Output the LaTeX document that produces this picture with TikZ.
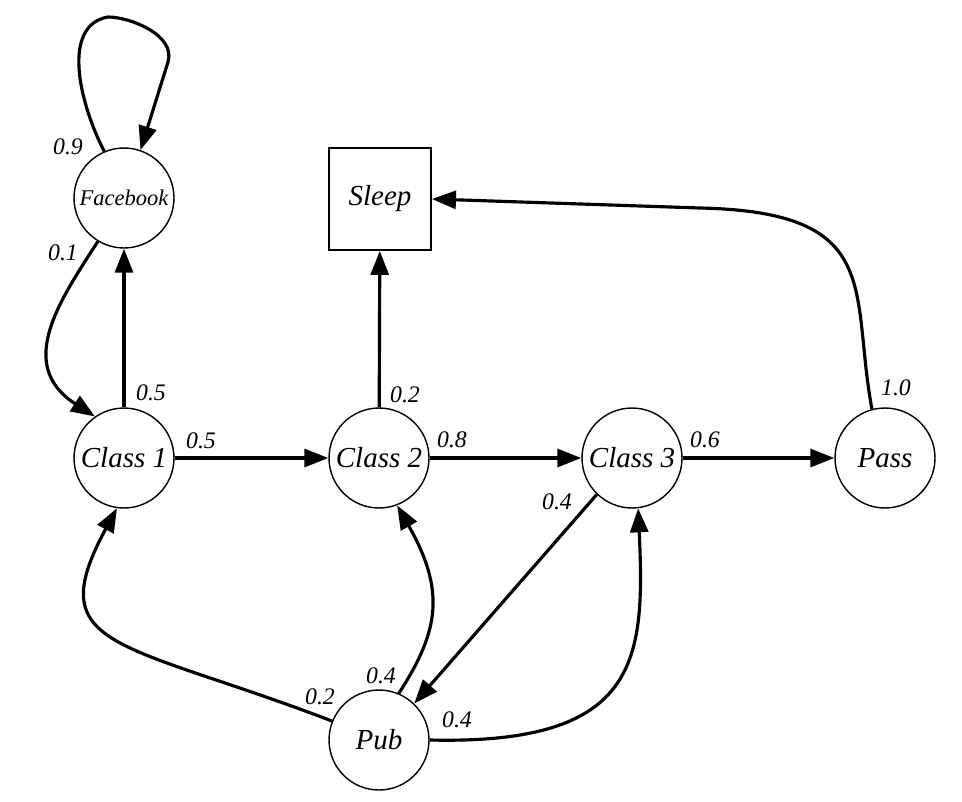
\documentclass[tikz,border=0pt]{standalone}
\usepackage{fontspec}
\setmainfont{Liberation Serif}
\usetikzlibrary{arrows.meta}
\usepackage{xcolor}

\begin{document}
\begin{tikzpicture}[x=0.02cm,y=-0.02cm,
	->,>={Triangle[length=0.48cm,width=0.36cm]},line width=1.8pt]
	\tikzstyle{state}=[circle,draw,line width=0.8pt,minimum size=2cm,inner sep=0pt,font=\fontsize{16.5}{20}\selectfont\itshape]
	\tikzstyle{small state}=[state,font=\fontsize{12.8}{15}\selectfont\itshape]
	\tikzstyle{end state}=[state,rectangle,line width=1.1pt,minimum size=2.04cm]
	\tikzstyle{prob}=[font=\fontsize{13.5}{15}\selectfont\itshape,inner sep=0pt]
	
	\useasboundingbox (0,0) rectangle (962,801);
	
	% Draw states
	\node[small state] (FB) at (124,198) {Facebook};
	\node[end state] (S) at (380,199) {Sleep};
	\node[state] (C1) at (124,458) {Class 1};
	\node[state] (C2) at (379,458) {Class 2};
	\node[state] (C3) at (632,458) {Class 3};
	\node[state] (P) at (885,458) {Pass};
	\node[state] (B) at (379,740) {Pub};
	
	% Facebook
	\draw (FB.113) .. controls (78,100) and (62,25) .. (108,17)
		.. controls (130,17) and (176,35) .. (168,62) -- (FB.71);
	\draw (FB.239) .. controls (60,300) and (15,365) .. (C1.125);
	
	% Classes
	\draw (C1) -- (FB);
	\draw (C1) -- (C2);
	\draw (C2) -- (S);
	\draw (C2) -- (C3);
	\draw (C3) -- (P);
	\draw (C3.226) -- (B.46);
	
	% Pass to sleep
	\draw (P.105) .. controls (850,290) and (885,212) .. (700,208) -- (S.east);
	
	% Pub
	\draw (B.158) .. controls (120,640) and (40,650) .. (C1.262);
	\draw (B.67) .. controls (440,630) and (445,590) .. (C2.291);
	\draw (B.east) .. controls (640,745) and (645,660) .. (C3.277);
	
	% Annotate
	\node[prob] (l-ff) at (68,147) {0.9};
	\node[prob] (l-fc) at (63,253) {0.1};
	\node[prob] (l-cf) at (151,393) {0.5};
	\node[prob] (l-c12) at (201,441) {0.5};
	\node[prob] (l-cs) at (405,395) {0.2};
	\node[prob] (l-c23) at (452,440) {0.8};
	\node[prob] (l-c3p) at (705,440) {0.6};
	\node[prob] (l-ps) at (896,388) {1.0};
	\node[prob] (l-c3b) at (557,502) {0.4};
	\node[prob] (l-b1) at (320,697) {0.2};
	\node[prob] (l-b2) at (381,676) {0.4};
	\node[prob] (l-b3) at (457,720) {0.4};
\end{tikzpicture}
\end{document}
